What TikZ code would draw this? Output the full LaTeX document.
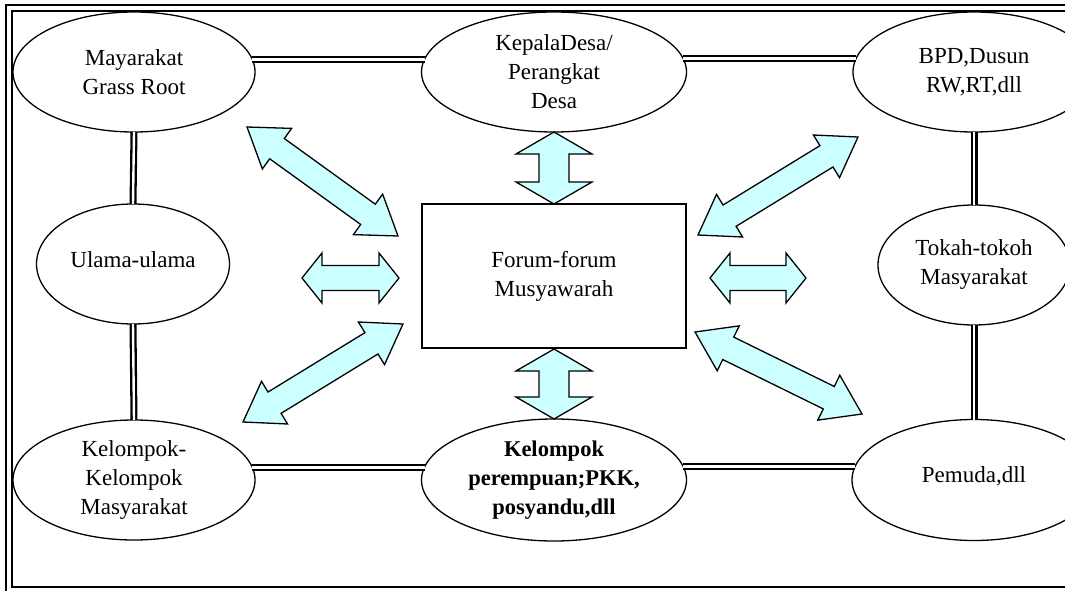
\documentclass[tikz,border=0pt]{standalone}
\usepackage{fontspec}
\setmainfont{Liberation Serif}
\usetikzlibrary{shapes.geometric,calc}
\definecolor{arrfill}{HTML}{CCFFFF}
\tikzset{
  ell/.style={ellipse, draw, line width=1.3pt, inner sep=0pt, outer sep=0pt, align=center,
    font=\fontsize{23}{29}\selectfont},
  frm/.style={draw, line width=1.8pt},
  dbl/.style={double, double distance=2.4pt, line width=2.3pt},
  blockarr/.style={draw, fill=arrfill, line width=1.3pt, line join=miter},
}
\newcommand{\barrow}[5]{%
  \coordinate (h1) at ($(#1)!#3pt!(#2)$);
  \coordinate (h2) at ($(#2)!#3pt!(#1)$);
  \draw[blockarr] (#1) -- ($(h1)!#4pt!90:(#2)$) -- ($(h1)!#5pt!90:(#2)$)
    -- ($(h2)!#5pt!-90:(#1)$) -- ($(h2)!#4pt!-90:(#1)$) -- (#2)
    -- ($(h2)!#4pt!90:(#1)$) -- ($(h2)!#5pt!90:(#1)$)
    -- ($(h1)!#5pt!-90:(#2)$) -- ($(h1)!#4pt!-90:(#2)$) -- cycle;}
\begin{document}
\begin{tikzpicture}[x=1pt,y=-1pt]
\useasboundingbox (0,0) rectangle (1065,591);
\clip (0,0) rectangle (1065,591);
% frame
\draw[frm] (6,5) rectangle (1090,592);
\draw[frm] (12,11) rectangle (1090,587);
% double connectors (drawn first, nodes are filled white on top)
% nodes
\node[ell, fill=white, minimum width=242pt, minimum height=120pt] (gr) at (134,72) {Mayarakat\\Grass Root};
\node[ell, fill=white, minimum width=265pt, minimum height=120pt] (kd) at (554,72) {KepalaDesa/\\Perangkat\\Desa};
\node[ell, fill=white, minimum width=242pt, minimum height=120pt] (bpd) at (974,72) {BPD,Dusun\\RW,RT,dll};
\node[ell, fill=white, minimum width=193pt, minimum height=120pt] (ul) at (133,264) {\raisebox{9pt}{Ulama-ulama}};
\node[ell, fill=white, minimum width=192pt, minimum height=120pt] (tt) at (974,265) {Tokah-tokoh\\Masyarakat};
\node[ell, fill=white, minimum width=242pt, minimum height=120pt] (kk) at (134,480) {Kelompok-\\Kelompok\\Masyarakat};
\node[ell, fill=white, minimum width=265pt, minimum height=122pt, font=\fontsize{22.5}{29}\selectfont\bfseries] (kp) at (554,480) {Kelompok\\perempuan;PKK,\\posyandu,dll};
\node[ell, fill=white, minimum width=244pt, minimum height=121pt] (pm) at (974,480) {\raisebox{10pt}{Pemuda,dll}};
\node[draw, line width=1.3pt, minimum width=264pt, minimum height=144pt, inner sep=0pt, outer sep=0pt,
  align=center, font=\fontsize{23}{29}\selectfont] (fm) at (554,276) {\raisebox{8pt}{\parbox{240pt}{\centering Forum-forum\\Musyawarah}}};
% double connectors
\draw[dbl] (gr.6) -- (gr.6 -| kd.174);
\draw[dbl] (kd.6) -- (kd.6 -| bpd.174);
\draw[dbl] (kk.6) -- (kk.6 -| kp.174);
\draw[dbl] (kp.6) -- (kp.6 -| pm.174);
\draw[dbl] (gr.south) -- (ul.north);
\draw[dbl] (ul.south) -- (kk.north);
\draw[dbl] (bpd.south) -- (tt.north);
\draw[dbl] (tt.south) -- (pm.north);
% block arrows
\coordinate (ta) at (554,132); \coordinate (tb) at (554,204);
\coordinate (ba) at (554,349); \coordinate (bb) at (554,419);
\coordinate (la) at (302,278); \coordinate (lb) at (399,278);
\coordinate (ra) at (710,278); \coordinate (rb) at (806,278);
\coordinate (d1a) at (247,127); \coordinate (d1b) at (398,236);
\coordinate (d2a) at (243,422); \coordinate (d2b) at (403,324);
\coordinate (d3a) at (858,137); \coordinate (d3b) at (698,235);
\coordinate (d4a) at (862,414); \coordinate (d4b) at (695,332);
\barrow{ta}{tb}{22}{38}{15}
\barrow{ba}{bb}{22}{38}{15}
\barrow{la}{lb}{20}{25}{12.5}
\barrow{ra}{rb}{20}{25}{12.5}
\barrow{d1a}{d1b}{37}{25}{12.5}
\barrow{d2a}{d2b}{37}{25}{12.5}
\barrow{d3a}{d3b}{37}{25}{12.5}
\barrow{d4a}{d4b}{37}{25}{12.5}
\end{tikzpicture}
\end{document}
